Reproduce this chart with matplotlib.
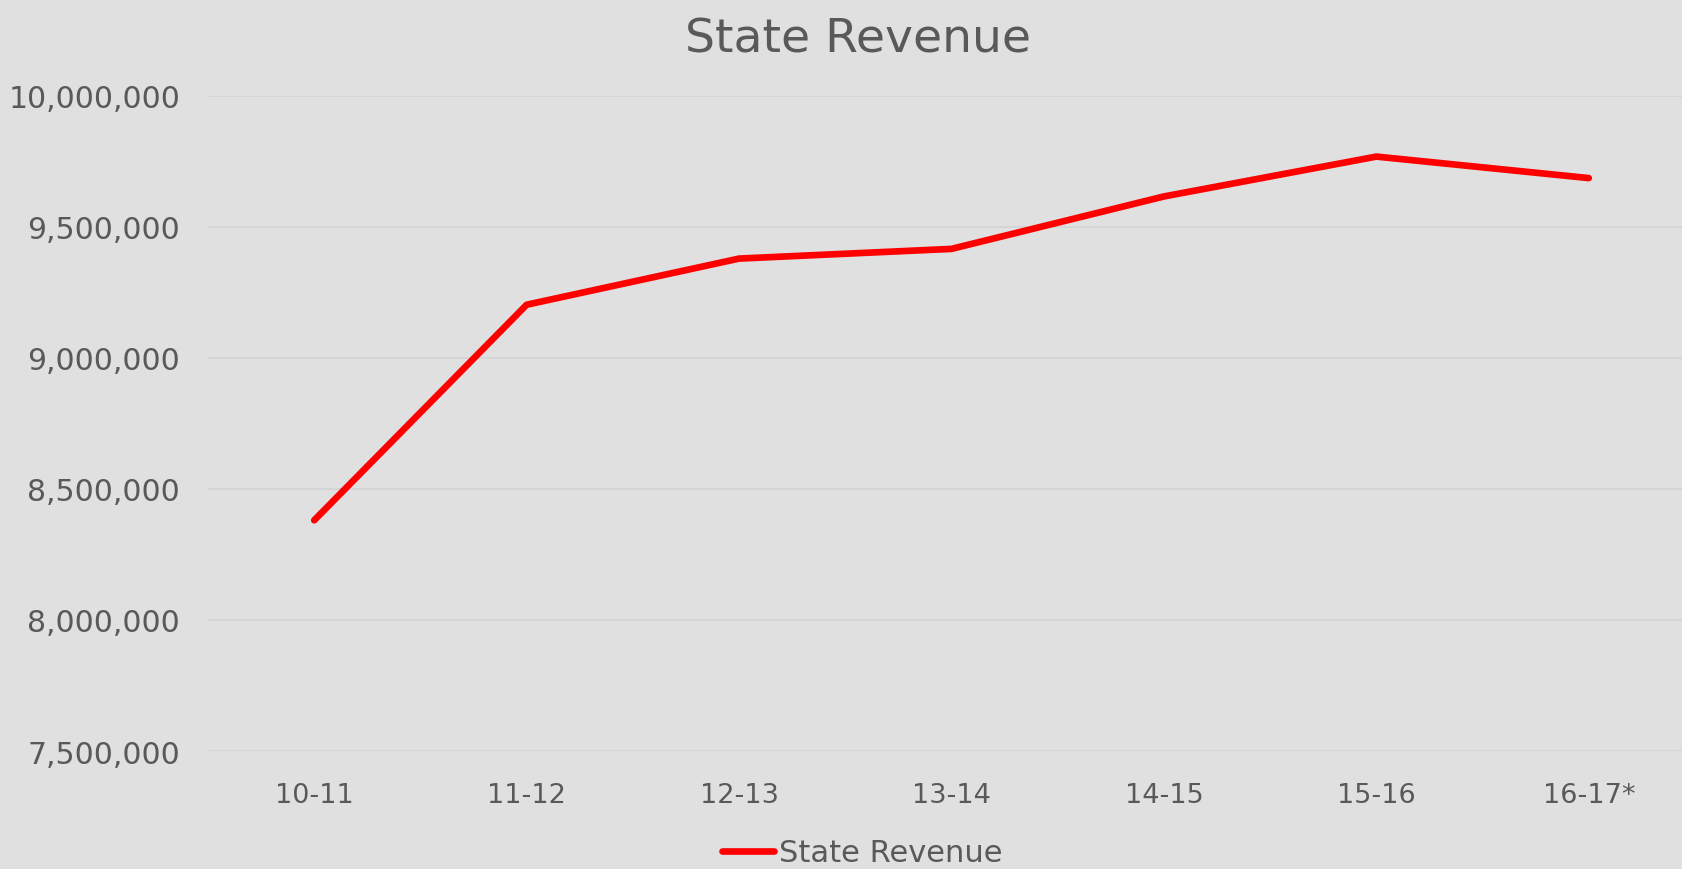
import matplotlib

matplotlib.use("Agg")
import matplotlib.pyplot as plt
from matplotlib.ticker import FuncFormatter, MultipleLocator

YEARS = ["10-11", "11-12", "12-13", "13-14", "14-15", "15-16", "16-17*"]
REVENUE = [8380000, 9202000, 9378000, 9415000, 9615000, 9767000, 9685000]

BG = "#e0e0e0"
GRID = "#d3d3d3"
TEXT = "#595959"
LINE = "#ff0000"

plt.rcParams["font.family"] = ["DejaVu Sans"]

fig = plt.figure(figsize=(16.82, 8.70), dpi=100, facecolor=BG)
W, H = 1682, 870
left, right = 208, 1695
top, bottom = 96.5, 752
ax = fig.add_axes([left / W, 1 - bottom / H, (right - left) / W, (bottom - top) / H])
ax.set_facecolor(BG)

x = list(range(len(YEARS)))
ax.plot(x, REVENUE, color=LINE, linewidth=4.8, solid_capstyle="round",
        solid_joinstyle="round", label="State Revenue")

ax.set_xlim(-0.5, len(YEARS) - 0.5)
ax.set_ylim(7500000, 10000000)
ax.yaxis.set_major_locator(MultipleLocator(500000))
ax.yaxis.set_major_formatter(FuncFormatter(lambda v, _: f"{int(v):,}"))
ax.set_xticks(x)
ax.set_xticklabels(YEARS)
ax.grid(axis="y", color=GRID, linewidth=1.2)
ax.set_axisbelow(True)
for spine in ax.spines.values():
    spine.set_visible(False)
ax.tick_params(axis="both", length=0, colors=TEXT)
ax.tick_params(axis="y", pad=20, labelsize=21.5)
ax.tick_params(axis="x", pad=22, labelsize=19.5)

fig.text(858 / W, 1 - 40 / H, "State Revenue", ha="center", va="center",
         fontsize=34, color=TEXT)

fig.legend(loc="center", bbox_to_anchor=(862 / W, 1 - 854 / H), frameon=False,
           fontsize=22, labelcolor=TEXT, handlelength=1.7, handletextpad=0.15,
           borderpad=0)

fig.savefig("out.png", dpi=100, facecolor=BG)
